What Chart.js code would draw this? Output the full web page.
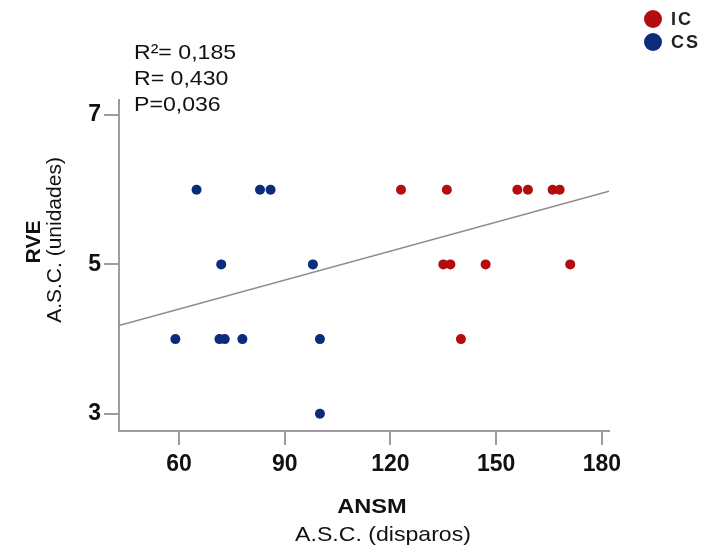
<!DOCTYPE html>
<html>
<head>
<meta charset="utf-8">
<script src="https://cdn.jsdelivr.net/npm/chart.js@4/dist/chart.umd.min.js"></script>
<style>
  html, body { margin: 0; padding: 0; background: #ffffff; }
  #wrap { width: 704px; height: 552px; position: relative; }
</style>
</head>
<body>
<div id="wrap"><canvas id="c" width="704" height="552"></canvas></div>
<script>
// ---- data ----
const seriesLabels = ['IC', 'CS'];
const icX = [123, 136, 156, 159, 166, 168, 135, 137, 147, 171, 140];
const icY = [6, 6, 6, 6, 6, 6, 5, 5, 5, 5, 4];
const csX = [65, 83, 86, 72, 98, 59, 71.5, 73, 78, 100, 100];
const csY = [6, 6, 6, 5, 5, 4, 4, 4, 4, 4, 3];
const regX = [43, 182];
const regY = [4.18, 5.98];
const xTicks = [60, 90, 120, 150, 180];
const yTicks = [3, 5, 7];
const statsLines = ['R²= 0,185', 'R= 0,430', 'P=0,036'];
const xTitle = ['ANSM', 'A.S.C. (disparos)'];
const yTitle = ['RVE', 'A.S.C. (unidades)'];

const RED = '#b30d0f';
const BLUE = '#0b2b7b';
const AXIS = '#9c9c9c';
const FONT = "'Liberation Sans', Arial, sans-serif";

const toPts = (xs, ys) => xs.map((x, i) => ({ x: x, y: ys[i] }));

const textPlugin = {
  id: 'texts',
  afterDraw(chart) {
    const ctx = chart.ctx;
    ctx.save();
    ctx.fillStyle = '#111';
    // stats
    ctx.font = '21px ' + FONT;
    ctx.textAlign = 'left';
    ctx.textBaseline = 'alphabetic';
    statsLines.forEach((t, i) => {
      ctx.save();
      ctx.translate(134, 59 + i * 26);
      ctx.scale(1.1, 1);
      ctx.fillText(t, 0, 0);
      ctx.restore();
    });
    // legend
    chart.data.datasets.filter(d => d.type === 'scatter').forEach((d, i) => {
      const cy = 19 + i * 23;
      ctx.beginPath();
      ctx.fillStyle = d.backgroundColor;
      ctx.arc(653, cy, 9, 0, Math.PI * 2);
      ctx.fill();
      ctx.fillStyle = '#222';
      ctx.font = 'bold 18px ' + FONT;
      ctx.textBaseline = 'middle';
      ctx.textAlign = 'left';
      ctx.letterSpacing = '2px';
      ctx.fillText(d.label, 671, cy + 1);
      ctx.letterSpacing = '0px';
    });
    // x title
    ctx.fillStyle = '#111';
    ctx.textAlign = 'center';
    ctx.textBaseline = 'alphabetic';
    ctx.save();
    ctx.translate(372, 513);
    ctx.scale(1.18, 1);
    ctx.font = 'bold 20px ' + FONT;
    ctx.fillText(xTitle[0], 0, 0);
    ctx.restore();
    ctx.save();
    ctx.translate(383, 541);
    ctx.scale(1.1, 1);
    ctx.font = '21px ' + FONT;
    ctx.fillText(xTitle[1], 0, 0);
    ctx.restore();
    // y title
    ctx.save();
    ctx.translate(40, 242);
    ctx.rotate(-Math.PI / 2);
    ctx.font = 'bold 21px ' + FONT;
    ctx.fillText(yTitle[0], 0, 0);
    ctx.restore();
    ctx.save();
    ctx.translate(61, 240);
    ctx.rotate(-Math.PI / 2);
    ctx.font = '21px ' + FONT;
    ctx.fillText(yTitle[1], 0, 0);
    ctx.restore();
    ctx.restore();
  }
};

new Chart(document.getElementById('c'), {
  data: {
    datasets: [
      {
        type: 'scatter', label: seriesLabels[0], data: toPts(icX, icY),
        backgroundColor: RED, borderWidth: 0, pointRadius: 5, order: 1
      },
      {
        type: 'scatter', label: seriesLabels[1], data: toPts(csX, csY),
        backgroundColor: BLUE, borderWidth: 0, pointRadius: 5, order: 1
      },
      {
        type: 'line', label: 'fit', data: toPts(regX, regY),
        borderColor: '#8c8c8c', borderWidth: 1.5, pointRadius: 0,
        fill: false, order: 3
      }
    ]
  },
  options: {
    responsive: false,
    animation: false,
    layout: { padding: { left: 0, top: 100, right: 95, bottom: 0 } },
    plugins: { legend: { display: false }, tooltip: { enabled: false }, title: { display: false } },
    scales: {
      x: {
        type: 'linear', position: 'bottom', min: 43, max: 182,
        afterBuildTicks: s => { s.ticks = xTicks.map(v => ({ value: v })); },
        afterFit: s => { s.height = 121; },
        grid: { display: true, drawOnChartArea: false, drawTicks: true, tickLength: 14, color: AXIS, lineWidth: 2 },
        border: { display: true, color: AXIS, width: 2 },
        ticks: { font: { family: FONT, size: 23, weight: 'bold' }, color: '#111', padding: 6, maxRotation: 0 }
      },
      y: {
        type: 'linear', position: 'left', min: 2.77, max: 7.2,
        afterBuildTicks: s => { s.ticks = yTicks.map(v => ({ value: v })); },
        afterFit: s => { s.width = 119; },
        grid: { display: true, drawOnChartArea: false, drawTicks: true, tickLength: 15, color: AXIS, lineWidth: 2 },
        border: { display: true, color: AXIS, width: 2 },
        ticks: { font: { family: FONT, size: 23, weight: 'bold' }, color: '#111', padding: 3 }
      }
    }
  },
  plugins: [textPlugin]
});
</script>
</body>
</html>
